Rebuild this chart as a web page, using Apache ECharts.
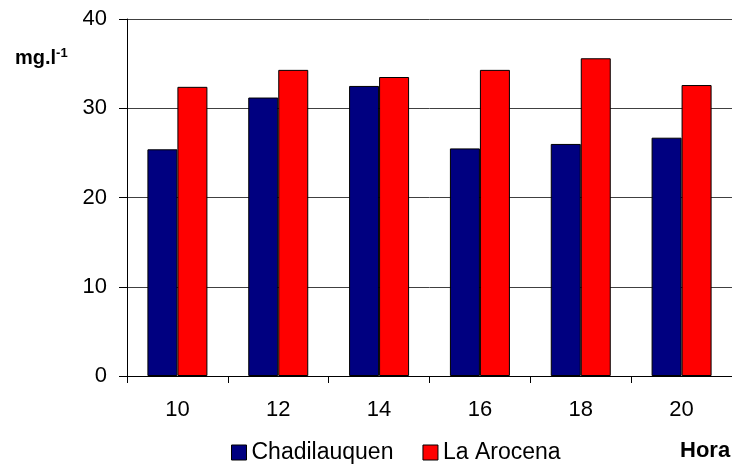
<!DOCTYPE html>
<html>
<head>
<meta charset="utf-8">
<script src="https://cdn.jsdelivr.net/npm/echarts@6/dist/echarts.min.js"></script>
<style>
  html, body { margin: 0; padding: 0; background: #fff; }
  #chart { width: 732px; height: 468px; }
</style>
</head>
<body>
<div id="chart"></div>
<script>
// Dissolved oxygen by hour at two sites
const horas = ['10', '12', '14', '16', '18', '20'];
const chadilauquen = [25.4, 31.2, 32.5, 25.5, 26.0, 26.7];
const laArocena = [32.4, 34.3, 33.5, 34.3, 35.6, 32.6];
const yTicks = { min: 0, max: 40, interval: 10 };

const FONT = 'Liberation Sans, Arial, sans-serif';
const chart = echarts.init(document.getElementById('chart'), null, { renderer: 'canvas' });

chart.setOption({
  animation: false,
  backgroundColor: '#ffffff',
  textStyle: { fontFamily: FONT, color: '#000' },
  grid: { left: 127, top: 19, right: -5, bottom: 92, containLabel: false },
  legend: {
    left: 231,
    top: 441,
    padding: 0,
    itemWidth: 15,
    itemHeight: 15,
    itemGap: 29,
    icon: 'rect',
    textStyle: { fontFamily: FONT, fontSize: 23, color: '#000' },
    data: [
      { name: 'Chadilauquen', itemStyle: { color: '#000080', borderColor: '#000', borderWidth: 1 } },
      { name: 'La Arocena', itemStyle: { color: '#ff0000', borderColor: '#000', borderWidth: 1 } }
    ]
  },
  xAxis: {
    type: 'category',
    data: horas,
    axisLine: { lineStyle: { color: '#000', width: 1 } },
    axisTick: { show: true, length: 7, lineStyle: { color: '#000' } },
    axisLabel: { fontFamily: FONT, fontSize: 22, color: '#000', margin: 23 },
    splitLine: { show: false }
  },
  yAxis: {
    type: 'value',
    min: yTicks.min,
    max: yTicks.max,
    interval: yTicks.interval,
    axisLine: { show: true, lineStyle: { color: '#000', width: 1 } },
    axisTick: { show: true, length: 8, lineStyle: { color: '#000' } },
    axisLabel: { fontFamily: FONT, fontSize: 22, color: '#000', margin: 20 },
    splitLine: { show: true, lineStyle: { color: '#404040', width: 1 } }
  },
  series: [
    {
      name: 'Chadilauquen',
      type: 'bar',
      data: chadilauquen,
      barWidth: 30,
      barGap: '0%',
      itemStyle: { color: '#000080', borderColor: '#000', borderWidth: 1 }
    },
    {
      name: 'La Arocena',
      type: 'bar',
      data: laArocena,
      barWidth: 30,
      barGap: '0%',
      itemStyle: { color: '#ff0000', borderColor: '#000', borderWidth: 1 }
    }
  ],
  graphic: [
    {
      type: 'text',
      left: 15,
      top: 47,
      style: {
        rich: {
          u: { fontFamily: FONT, fontSize: 20, fontWeight: 'bold', fill: '#000' },
          s: { fontFamily: FONT, fontSize: 13, fontWeight: 'bold', fill: '#000', verticalAlign: 'top', padding: [0, 0, 10, 0] }
        },
        text: '{u|mg.l}{s|-1}'
      }
    },
    {
      type: 'text',
      left: 680,
      top: 440,
      style: { text: 'Hora', fontFamily: FONT, fontSize: 22, fontWeight: 'bold', fill: '#000' }
    }
  ]
});
</script>
</body>
</html>
